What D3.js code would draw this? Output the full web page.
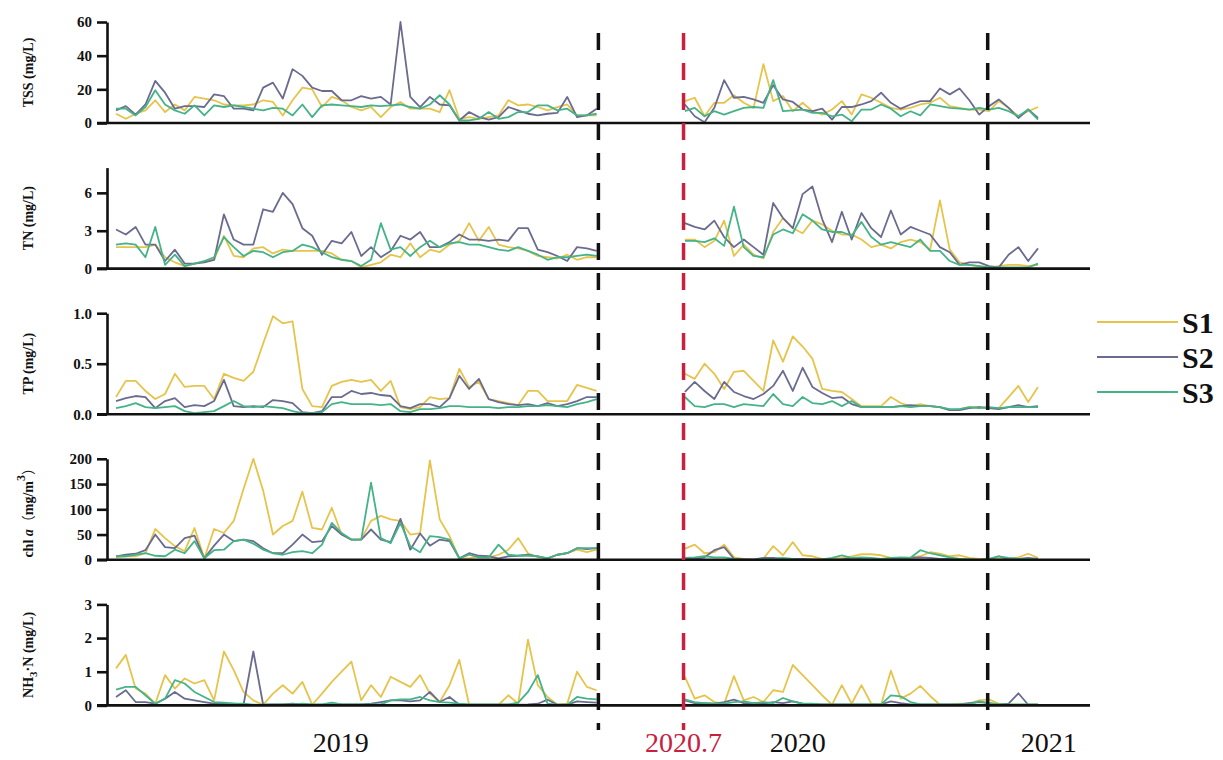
<!DOCTYPE html>
<html>
<head>
<meta charset="utf-8">
<script src="https://cdn.jsdelivr.net/npm/d3@7"></script>
<style>
  body { margin: 0; background: #fff; }
  svg { display: block; font-family: "Liberation Serif", "Times New Roman", serif; }
</style>
</head>
<body>
<script>
const width = 1223;
const height = 760;

const seriesNames = ['S1', 'S2', 'S3'];
const seriesColors = ['#e6c44c', '#6a6b8f', '#45b388'];

// sample numbers: 2019 run (50 samples) and 2020-2021 run (37 samples)
const idx2019 = d3.range(0, 50);
const idx2020 = d3.range(58, 95);

// TSS (mg/L)
const tssS1a = [5.5,2.5,5.5,7.5,13.5,6.5,11,7.5,15.5,14.5,13.5,11,10.5,10.5,11,13.5,12.5,4.5,13.5,21,20,9.5,15.5,13.5,9.5,7.5,9.5,3.5,9.5,12.5,8.5,8.5,8.5,6.5,19.5,2.5,3.5,2.5,3.5,4.5,13.5,10.5,11,9.5,7.5,9.5,11,4.5,4.5,4.5];
const tssS2a = [7.5,10,5,11,25,18,8.5,10,10,9.5,17,16,8.5,8.5,7.5,21,24,14.5,32,28,21,19,19,13.5,13.5,16,14.5,15.5,11,60,15.5,9.5,15.5,11,10.5,1.5,6.5,3.5,2,3.5,9.5,7.5,5.5,4.5,5.5,6,15.5,3.5,4.5,8.5];
const tssS3a = [8.5,8.5,4.5,9.5,19.5,11,7.5,5.5,10.5,4.5,10.5,9.5,10.5,9.5,8.5,7.5,9,8.5,4.5,11,3.5,10.5,11,10.5,10,9.5,10.5,10,10.5,11,9.5,8.5,11,16.5,11,1.5,1.5,2.5,6.5,2.5,3.5,6.5,6.5,10.5,10.5,7.5,8.5,4.5,4.5,5.5];
const tssS1b = [13,15,4,12,12,16.5,12,9,35,13,16,7,12,7,5,8,13,5,17,15,12,9,8,9,11,12,15,10,9,8,8,7,13,9,4,7,9.5];
const tssS2b = [11,4,0.5,9,25.5,15,15.5,14,12,22.5,14,12.5,8,7,8.5,2,9.5,9.5,11,13,18,12,8.5,11,13,13,20.5,17,20.5,13.5,5,10,14,9,3,8,3];
const tssS3b = [7,9,4,7,5,7,9,9.5,9,25.5,7,7.5,8,6,6,4,5,1,8,8,11,8.5,4,7,4.5,11,10,9,8.5,8,9,8,9,7,4,8,2];

// TN (mg/L)
const tnS1a = [1.7,1.7,1.7,1.7,1.9,0.9,0.5,0.2,0.4,0.6,0.7,2.6,1.0,0.9,1.6,1.7,1.2,1.5,1.4,1.4,1.4,1.4,1.2,0.7,0.6,0.1,0.3,0.5,1.1,0.9,2.0,0.9,1.5,1.3,1.9,2.2,3.6,2.2,3.3,1.9,1.7,1.6,1.4,1.0,0.9,0.8,1.1,0.7,0.9,0.9];
const tnS2a = [3.1,2.7,3.3,1.9,1.9,0.6,1.5,0.4,0.4,0.5,0.7,4.3,2.3,1.9,1.9,4.7,4.5,6.0,5.1,3.2,2.6,1.1,2.2,2.0,2.9,1.0,1.7,0.9,1.4,2.6,2.3,2.9,1.7,1.7,2.1,2.7,2.3,2.3,2.2,2.3,2.2,3.2,3.2,1.5,1.3,1.0,0.6,1.7,1.6,1.4];
const tnS3a = [1.9,2.0,1.9,0.9,3.3,0.3,1.1,0.2,0.4,0.6,0.9,2.5,1.7,1.0,1.4,1.3,0.9,1.3,1.4,1.9,1.7,1.3,0.9,0.7,0.6,0.2,0.7,3.6,1.5,1.7,1.0,1.7,2.2,1.7,2.0,2.1,1.9,1.9,1.7,1.5,1.4,1.7,1.4,1.1,0.7,0.9,0.9,1.0,1.1,1.0];
const tnS1b = [2.3,2.3,1.7,2.2,3.8,1.0,1.9,1.1,0.8,2.9,4.0,3.2,2.8,3.8,3.5,3.0,2.7,2.7,2.3,1.7,1.9,1.6,2.1,2.3,2.1,1.5,5.4,1.5,0.5,0.3,0.2,0.1,0.2,0.3,0.3,0.2,0.3];
const tnS2b = [3.6,3.3,3.1,3.8,2.5,1.7,2.3,1.7,1.1,5.2,4.0,3.2,5.9,6.5,3.9,2.1,4.5,2.3,4.4,3.2,2.5,4.6,2.7,3.3,3.0,2.7,1.7,1.3,0.3,0.5,0.5,0.2,0.1,1.1,1.7,0.6,1.6];
const tnS3b = [2.2,2.2,2.1,2.4,1.8,4.9,1.7,1.0,0.9,2.7,3.1,2.8,4.3,3.8,3.1,2.9,2.9,2.6,3.7,2.5,1.9,2.1,1.9,1.7,2.3,1.4,1.4,0.6,0.3,0.3,0.2,0.1,0.1,0.1,0.1,0.1,0.4];

// TP (mg/L)
const tpS1a = [0.17,0.33,0.33,0.23,0.15,0.2,0.4,0.27,0.28,0.28,0.15,0.4,0.36,0.33,0.42,0.7,0.97,0.9,0.92,0.25,0.08,0.07,0.28,0.32,0.34,0.32,0.34,0.23,0.33,0.07,0.05,0.07,0.17,0.15,0.16,0.45,0.27,0.32,0.15,0.13,0.11,0.09,0.23,0.23,0.13,0.13,0.13,0.29,0.26,0.23];
const tpS2a = [0.13,0.16,0.18,0.17,0.06,0.13,0.16,0.07,0.09,0.08,0.13,0.34,0.08,0.07,0.08,0.07,0.14,0.13,0.11,0.02,0.01,0.03,0.17,0.17,0.23,0.2,0.21,0.19,0.18,0.08,0.06,0.1,0.1,0.07,0.16,0.38,0.25,0.35,0.15,0.12,0.1,0.09,0.1,0.08,0.11,0.08,0.1,0.13,0.17,0.17];
const tpS3a = [0.06,0.08,0.11,0.07,0.06,0.07,0.08,0.03,0.01,0.02,0.03,0.08,0.13,0.08,0.07,0.08,0.07,0.06,0.03,0.01,0.01,0.02,0.1,0.12,0.1,0.1,0.1,0.09,0.1,0.03,0.02,0.05,0.05,0.06,0.08,0.08,0.07,0.07,0.07,0.06,0.07,0.07,0.08,0.08,0.09,0.08,0.07,0.1,0.12,0.15];
const tpS1b = [0.4,0.35,0.5,0.4,0.25,0.42,0.43,0.33,0.23,0.73,0.52,0.77,0.67,0.55,0.25,0.23,0.22,0.15,0.08,0.08,0.08,0.17,0.11,0.08,0.1,0.08,0.07,0.04,0.05,0.07,0.07,0.06,0.06,0.17,0.28,0.12,0.27];
const tpS2b = [0.22,0.32,0.23,0.15,0.32,0.22,0.18,0.15,0.2,0.28,0.43,0.23,0.46,0.27,0.21,0.16,0.17,0.1,0.07,0.07,0.07,0.07,0.08,0.09,0.08,0.08,0.07,0.04,0.04,0.06,0.07,0.06,0.05,0.07,0.09,0.07,0.08];
const tpS3b = [0.17,0.08,0.07,0.1,0.1,0.07,0.1,0.09,0.08,0.2,0.1,0.08,0.17,0.11,0.1,0.13,0.08,0.13,0.07,0.07,0.07,0.07,0.08,0.07,0.08,0.08,0.07,0.05,0.05,0.07,0.06,0.07,0.06,0.07,0.07,0.07,0.07];

// chl a (mg/m3)
const chlS1a = [5,7,7,13,61,43,27,17,63,3,61,53,77,140,200,137,50,67,77,135,63,60,103,50,40,41,77,87,80,77,50,53,197,80,47,3,3,7,5,10,20,43,13,5,3,10,13,20,15,20];
const chlS2a = [7,10,12,19,50,25,23,43,48,3,28,50,37,40,37,23,13,13,30,50,35,37,67,50,40,40,60,40,35,81,20,52,28,40,37,3,13,8,7,3,7,8,10,7,3,10,13,23,21,23];
const chlS3a = [7,7,10,13,8,7,20,13,37,3,19,20,37,40,32,20,13,10,15,17,13,30,73,53,40,40,153,43,33,73,27,15,47,45,40,3,10,5,5,30,10,8,8,7,3,10,13,23,23,23];
const chlS1b = [22,30,13,15,30,5,2,0,2,27,9,35,9,7,2,2,4,7,11,11,9,4,4,5,7,15,12,7,9,4,2,2,2,2,5,12,4];
const chlS2b = [2,2,5,19,25,2,1,1,4,4,2,2,2,1,0,0,1,4,2,1,0,2,2,4,5,4,2,2,1,0,0,1,7,1,2,4,2];
const chlS3b = [4,5,7,5,5,2,0,0,2,2,4,2,0,0,1,4,9,4,5,4,2,4,5,4,19,13,9,5,2,1,0,2,7,4,2,2,1];

// NH3-N (mg/L)
const nhS1a = [1.1,1.5,0.5,0.35,0.05,0.9,0.5,0.8,0.65,0.75,0.15,1.6,1.05,0.4,0.15,0.02,0.35,0.6,0.35,0.7,0.02,0.35,0.7,1.0,1.3,0.15,0.6,0.25,0.85,0.7,0.55,0.9,0.35,0.1,0.6,1.35,0.02,0.02,0.02,0.02,0.3,0.05,1.95,0.6,0.25,0.02,0.05,1.0,0.55,0.45];
const nhS2a = [0.25,0.45,0.1,0.1,0.05,0.2,0.4,0.2,0.15,0.1,0.05,0.05,0.05,0.02,1.6,0.02,0.03,0.03,0.05,0.03,0.02,0.02,0.03,0.03,0.03,0.03,0.05,0.1,0.15,0.15,0.12,0.15,0.4,0.1,0.25,0.02,0.02,0.02,0.02,0.02,0.02,0.02,0.03,0.05,0.17,0.02,0.02,0.12,0.1,0.08];
const nhS3a = [0.47,0.55,0.55,0.3,0.05,0.2,0.75,0.65,0.4,0.25,0.1,0.08,0.05,0.05,0.02,0.02,0.03,0.03,0.03,0.05,0.03,0.03,0.08,0.03,0.03,0.03,0.03,0.03,0.15,0.18,0.18,0.25,0.15,0.1,0.08,0.05,0.03,0.03,0.03,0.03,0.03,0.08,0.4,0.9,0.05,0.02,0.02,0.25,0.2,0.18];
const nhS1b = [0.85,0.2,0.3,0.1,0.05,0.87,0.15,0.25,0.1,0.45,0.4,1.2,0.9,0.6,0.3,0.02,0.6,0.05,0.6,0.05,0.02,1.03,0.2,0.35,0.58,0.28,0.02,0.02,0.05,0.05,0.15,0.18,0.05,0.02,0.02,0.02,0.02];
const nhS2b = [0.15,0.07,0.07,0.05,0.1,0.17,0.07,0.07,0.05,0.1,0.07,0.12,0.05,0.03,0.03,0.03,0.03,0.03,0.03,0.03,0.03,0.12,0.07,0.03,0.03,0.03,0.03,0.03,0.03,0.07,0.1,0.07,0.02,0.05,0.36,0.02,0.02];
const nhS3b = [0.18,0.1,0.07,0.05,0.05,0.1,0.12,0.07,0.1,0.07,0.22,0.12,0.05,0.05,0.03,0.03,0.03,0.03,0.03,0.03,0.03,0.3,0.27,0.1,0.03,0.03,0.03,0.03,0.03,0.03,0.12,0.07,0.03,0.03,0.03,0.03,0.03];

// y axis ticks
const tssTicks = [0, 20, 40, 60];
const tnTicks = [0, 3, 6];
const tpTicks = [0, 0.5, 1.0];
const chlTicks = [0, 50, 100, 150, 200];
const nhTicks = [0, 1, 2, 3];

// period markers (sample positions) and bottom labels
const markerPos = [49.18, 57.86, 88.87];
const markerRed = [false, true, false];
const yearLabels = ['2019', '2020.7', '2020', '2021'];
const yearPos = [22.9, 57.86, 69.5, 95.1];

const panels = [
    {max: 60, ticks: tssTicks, fmt: d3.format('d'), a: [tssS1a, tssS2a, tssS3a], b: [tssS1b, tssS2b, tssS3b]},
    {max: 8, ticks: tnTicks, fmt: d3.format('d'), a: [tnS1a, tnS2a, tnS3a], b: [tnS1b, tnS2b, tnS3b]},
    {max: 1, ticks: tpTicks, fmt: d3.format('.1f'), a: [tpS1a, tpS2a, tpS3a], b: [tpS1b, tpS2b, tpS3b]},
    {max: 200, ticks: chlTicks, fmt: d3.format('d'), a: [chlS1a, chlS2a, chlS3a], b: [chlS1b, chlS2b, chlS3b]},
    {max: 3, ticks: nhTicks, fmt: d3.format('d'), a: [nhS1a, nhS2a, nhS3a], b: [nhS1b, nhS2b, nhS3b]}
];

const left = 107;
const right = 1090;
const panelTop = 22;
const panelStep = 145.6;
const panelH = 101;

const x = d3.scaleLinear().domain([-0.92, 99.3]).range([left, right]);

const svg = d3.select('body')
    .append('svg')
    .attr('width', width)
    .attr('height', height);

const line = (y) => d3.line()
    .x(d => x(d[0]))
    .y(d => y(d[1]));

panels.forEach((p, i) => {
    const top = panelTop + i * panelStep;
    const y = d3.scaleLinear().domain([0, p.max]).range([top + panelH, top]);
    const g = svg.append('g');

    // data lines, both sampling periods
    [0, 1, 2].forEach(s => {
        [[idx2019, p.a[s]], [idx2020, p.b[s]]].forEach(([idx, vals]) => {
            g.append('path')
                .datum(idx.map((k, j) => [k, vals[j]]))
                .attr('fill', 'none')
                .attr('stroke', seriesColors[s])
                .attr('stroke-width', 1.8)
                .attr('stroke-linejoin', 'round')
                .attr('d', line(y));
        });
    });

    // x baseline
    g.append('line')
        .attr('x1', left - 10).attr('x2', right)
        .attr('y1', y(0)).attr('y2', y(0))
        .attr('stroke', '#111')
        .attr('stroke-width', 2.6);

    const ax = g.append('g')
        .attr('transform', `translate(${left},0)`)
        .call(d3.axisLeft(y).tickValues(p.ticks).tickFormat(p.fmt).tickSize(10).tickSizeOuter(0).tickPadding(5));
    ax.select('.domain').attr('stroke', '#111').attr('stroke-width', 2.6);
    ax.selectAll('.tick line').attr('stroke', '#111').attr('stroke-width', 2.6);
    ax.selectAll('.tick text')
        .attr('fill', '#111')
        .style('font-family', '"Liberation Serif", serif')
        .style('font-size', '15px')
        .style('font-weight', 'bold');
});

// y titles
const titleY = i => panelTop + i * panelStep + panelH / 2;
const titles = svg.append('g')
    .style('font-size', '14px')
    .style('font-weight', 'bold')
    .attr('fill', '#111')
    .attr('text-anchor', 'middle');

const addTitle = (i) => titles.append('text')
    .attr('transform', `translate(33,${titleY(i)}) rotate(-90)`);

addTitle(0).text('TSS (mg/L)');
addTitle(1).text('TN (mg/L)');
addTitle(2).text('TP (mg/L)');

const chl = addTitle(3);
chl.append('tspan').text('chl ');
chl.append('tspan').style('font-style', 'italic').text('a');
chl.append('tspan').style('font-family', '"Noto Sans CJK SC", sans-serif').style('font-weight', 'normal').text('（');
chl.append('tspan').text('mg/m');
chl.append('tspan').attr('dy', -8).style('font-size', '12px').text('3');
chl.append('tspan').attr('dy', 8).style('font-family', '"Noto Sans CJK SC", sans-serif').style('font-weight', 'normal').text('）');

const nh = addTitle(4);
nh.append('tspan').text('NH');
nh.append('tspan').attr('dy', 4).style('font-size', '11px').text('3');
nh.append('tspan').attr('dy', -4).text('·N (mg/L)');

// dashed period markers
svg.append('g')
    .selectAll('line')
    .data(markerPos)
    .join('line')
    .attr('x1', d => x(d)).attr('x2', d => x(d))
    .attr('y1', 33).attr('y2', 730)
    .attr('stroke', (d, i) => markerRed[i] ? '#c8203f' : '#111')
    .attr('stroke-width', 3.5)
    .attr('stroke-dasharray', '17,13');

// bottom period labels
svg.append('g')
    .selectAll('text')
    .data(yearLabels)
    .join('text')
    .attr('x', (d, i) => x(yearPos[i]))
    .attr('y', 752)
    .attr('text-anchor', 'middle')
    .style('font-size', '28px')
    .attr('fill', d => d === '2020.7' ? '#c8203f' : '#111')
    .text(d => d);

// legend
const legend = svg.append('g')
    .selectAll('g')
    .data(seriesNames)
    .join('g')
    .attr('transform', (d, i) => `translate(1097,${322 + i * 35})`);

legend.append('line')
    .attr('x1', 0).attr('x2', 81)
    .attr('stroke', (d, i) => seriesColors[i])
    .attr('stroke-width', 2);

legend.append('text')
    .attr('x', 85)
    .attr('dy', '0.35em')
    .style('font-size', '30px')
    .style('font-weight', 'bold')
    .attr('fill', '#111')
    .text(d => d);
</script>
</body>
</html>
